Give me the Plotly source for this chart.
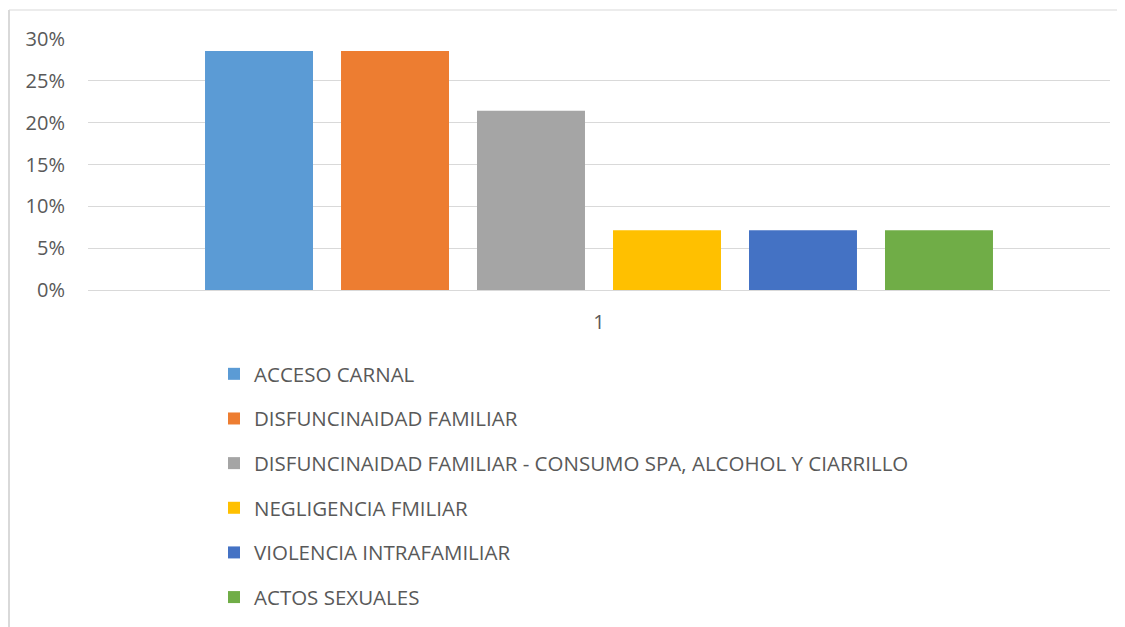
import plotly.graph_objects as go

categories = ["1"]
series_names = [
    "ACCESO CARNAL",
    "DISFUNCINAIDAD FAMILIAR",
    "DISFUNCINAIDAD FAMILIAR - CONSUMO SPA, ALCOHOL Y CIARRILLO",
    "NEGLIGENCIA FMILIAR",
    "VIOLENCIA INTRAFAMILIAR",
    "ACTOS SEXUALES",
]
series_values = [0.2857, 0.2857, 0.2143, 0.0714, 0.0714, 0.0714]
colors = ["#5B9BD5", "#ED7D31", "#A5A5A5", "#FFC000", "#4472C4", "#70AD47"]
y_ticks = [0, 0.05, 0.10, 0.15, 0.20, 0.25, 0.30]

W, H = 1125, 627
OFF = 8  # page body margin
# desired screen-pixel plot area: x 88..1110, y 39..290
L = 88 - OFF
T = 39 - OFF
R = (W + OFF) - 1110
B = (H + OFF) - 290
font = "Open Sans"
txt = "#595959"

fig = go.Figure()
for name, v, c in zip(series_names, series_values, colors):
    fig.add_trace(go.Bar(x=categories, y=[v], name=name, marker_color=c,
                         marker_line_width=0, legendgroup=name))

pw = W - L - R
ph = H - T - B
def px_x(x):
    return (x - OFF - L) / pw
def px_y(y):
    return (H - B - (y - OFF)) / ph

fig.update_layout(
    width=W, height=H,
    margin=dict(l=L, r=R, t=T, b=B, autoexpand=False),
    paper_bgcolor="white", plot_bgcolor="white",
    barmode="group", bargap=0.2016, bargroupgap=0.206,
    font=dict(family=font, size=20, color=txt),
    showlegend=True,
    legend=dict(xref="container", yref="container",
                x=206 / W, y=1 - 346 / H, xanchor="left", yanchor="top",
                orientation="v", font=dict(family=font, size=20.5, color=txt),
                tracegroupgap=15, bgcolor="rgba(0,0,0,0)"),
    xaxis=dict(type="category", showgrid=False, showline=False, ticks="",
               tickfont=dict(family=font, size=20, color=txt), ticklabelstandoff=18),
    yaxis=dict(range=[0, 0.30], tickvals=y_ticks, tickformat=".0%",
               showgrid=True, gridcolor="#D9D9D9", gridwidth=1,
               zeroline=True, zerolinecolor="#D9D9D9", zerolinewidth=1,
               showline=False, ticks="",
               tickfont=dict(family=font, size=20, color=txt), ticklabelstandoff=22),
    shapes=[
        dict(type="line", xref="paper", yref="paper",
             x0=px_x(9), x1=px_x(9), y0=px_y(10), y1=px_y(H + 30),
             line=dict(color="#D9D9D9", width=2)),
        dict(type="line", xref="paper", yref="paper",
             x0=px_x(9), x1=px_x(W + 30), y0=px_y(10), y1=px_y(10),
             line=dict(color="#D9D9D9", width=1)),
    ],
)

fig.write_html("out.html")
